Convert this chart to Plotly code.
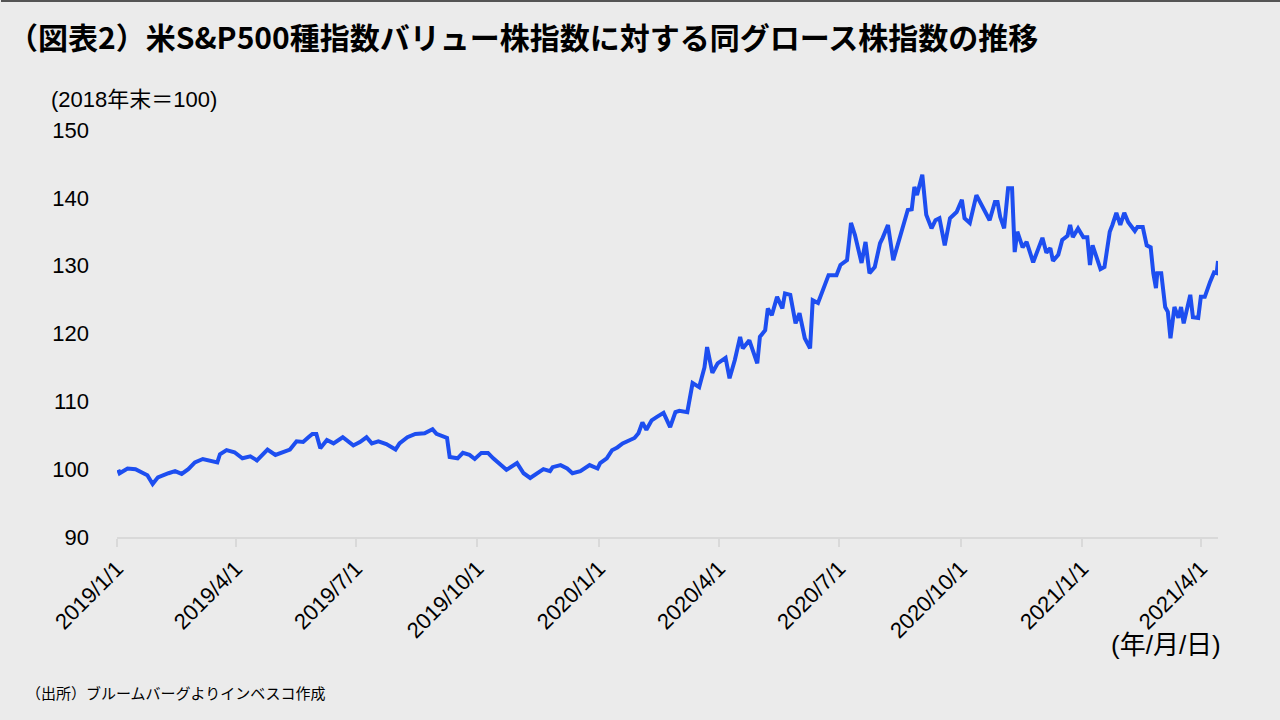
import plotly.graph_objects as go

# Relative index: S&P500 Growth / Value (end-2018 = 100)
dates = [
    "2019-01-02", "2019-01-03", "2019-01-09", "2019-01-15", "2019-01-21", "2019-01-24", "2019-01-28",
    "2019-02-01", "2019-02-09", "2019-02-14", "2019-02-19", "2019-02-24", "2019-03-01", "2019-03-07",
    "2019-03-18", "2019-03-20", "2019-03-25", "2019-03-31", "2019-04-06", "2019-04-12", "2019-04-17",
    "2019-04-25", "2019-05-01", "2019-05-12", "2019-05-17", "2019-05-22", "2019-05-26", "2019-05-29",
    "2019-06-01", "2019-06-04", "2019-06-09", "2019-06-14", "2019-06-21", "2019-06-29", "2019-07-04",
    "2019-07-09", "2019-07-13", "2019-07-18", "2019-07-24", "2019-07-31", "2019-08-03", "2019-08-09",
    "2019-08-15", "2019-08-22", "2019-08-28", "2019-08-31", "2019-09-08", "2019-09-10", "2019-09-16",
    "2019-09-20", "2019-09-25", "2019-09-29", "2019-10-04", "2019-10-09", "2019-10-13", "2019-10-17",
    "2019-10-23", "2019-10-31", "2019-11-05", "2019-11-10", "2019-11-15", "2019-11-20", "2019-11-25",
    "2019-11-27", "2019-12-03", "2019-12-08", "2019-12-12", "2019-12-18", "2019-12-25", "2019-12-31",
    "2020-01-02", "2020-01-07", "2020-01-11", "2020-01-15", "2020-01-19", "2020-01-25", "2020-01-28",
    "2020-01-31", "2020-02-03", "2020-02-06", "2020-02-10", "2020-02-14", "2020-02-19", "2020-02-24",
    "2020-02-28", "2020-03-02", "2020-03-08", "2020-03-12", "2020-03-17", "2020-03-21", "2020-03-23",
    "2020-03-27", "2020-03-31", "2020-04-06", "2020-04-09", "2020-04-13", "2020-04-17", "2020-04-19",
    "2020-04-24", "2020-04-30", "2020-05-02", "2020-05-06", "2020-05-08", "2020-05-11", "2020-05-15",
    "2020-05-19", "2020-05-21", "2020-05-25", "2020-05-29", "2020-06-01", "2020-06-05", "2020-06-09",
    "2020-06-11", "2020-06-15", "2020-06-19", "2020-06-23", "2020-06-29", "2020-07-02", "2020-07-07",
    "2020-07-10", "2020-07-13", "2020-07-18", "2020-07-21", "2020-07-24", "2020-07-28", "2020-08-01",
    "2020-08-03", "2020-08-07", "2020-08-11", "2020-08-15", "2020-08-18", "2020-08-22", "2020-08-25",
    "2020-08-27", "2020-08-29", "2020-09-02", "2020-09-05", "2020-09-09", "2020-09-12", "2020-09-15",
    "2020-09-19", "2020-09-23", "2020-09-28", "2020-10-02", "2020-10-04", "2020-10-08", "2020-10-13",
    "2020-10-18", "2020-10-23", "2020-10-27", "2020-10-29", "2020-10-31", "2020-11-03", "2020-11-06",
    "2020-11-09", "2020-11-11", "2020-11-13", "2020-11-17", "2020-11-20", "2020-11-25", "2020-11-28",
    "2020-12-02", "2020-12-05", "2020-12-08", "2020-12-10", "2020-12-14", "2020-12-17", "2020-12-21",
    "2020-12-23", "2020-12-25", "2020-12-29", "2021-01-02", "2021-01-05", "2021-01-07", "2021-01-09",
    "2021-01-12", "2021-01-15", "2021-01-18", "2021-01-22", "2021-01-24", "2021-01-27", "2021-01-30",
    "2021-02-02", "2021-02-05", "2021-02-10", "2021-02-12", "2021-02-16", "2021-02-19", "2021-02-22",
    "2021-02-24", "2021-02-26", "2021-02-27", "2021-03-02", "2021-03-05", "2021-03-07", "2021-03-09",
    "2021-03-11", "2021-03-12", "2021-03-15", "2021-03-17", "2021-03-19", "2021-03-24", "2021-03-26",
    "2021-03-30", "2021-04-01", "2021-04-04", "2021-04-08", "2021-04-11", "2021-04-13", "2021-04-14",
]
values = [
    99.9, 99.4, 100.1, 100.0, 99.4, 99.1, 97.8,
    98.8, 99.4, 99.7, 99.3, 100.0, 101.0, 101.5,
    101.0, 102.2, 102.8, 102.5, 101.6, 101.9, 101.3,
    102.9, 102.1, 102.9, 104.1, 104.0, 104.7, 105.2,
    105.2, 103.1, 104.3, 103.8, 104.7, 103.5, 104.0,
    104.7, 103.8, 104.1, 103.7, 102.9, 103.8, 104.7,
    105.2, 105.3, 105.9, 105.2, 104.6, 101.8, 101.6,
    102.4, 102.1, 101.5, 102.4, 102.4, 101.6, 100.9,
    99.9, 100.9, 99.4, 98.7, 99.4, 100.0, 99.7,
    100.3, 100.6, 100.1, 99.4, 99.7, 100.6, 100.1,
    100.9, 101.6, 102.8, 103.2, 103.8, 104.3, 104.6,
    105.3, 106.9, 105.8, 107.2, 107.7, 108.3, 106.2,
    108.4, 108.6, 108.4, 112.7, 112.1, 115.0, 118.0,
    114.2, 115.6, 116.4, 113.4, 116.1, 119.5, 117.8,
    119.0, 115.6, 119.5, 120.5, 123.7, 122.7, 125.4,
    123.7, 125.9, 125.7, 121.5, 123.0, 119.3, 117.8,
    124.9, 124.5, 126.7, 128.6, 128.6, 130.1, 130.8,
    136.3, 134.5, 130.4, 133.5, 128.9, 129.8, 133.3,
    134.1, 136.0, 130.8, 133.5, 135.3, 138.2, 138.3,
    141.6, 140.4, 143.4, 137.5, 135.5, 136.7, 137.0,
    133.0, 137.0, 137.9, 139.7, 137.0, 136.3, 140.4,
    138.6, 136.7, 139.4, 139.4, 137.2, 135.5, 141.4,
    141.4, 132.0, 135.0, 132.7, 133.5, 130.5, 132.0,
    134.1, 131.9, 132.6, 130.7, 131.6, 133.8, 134.4,
    136.0, 134.2, 135.5, 134.2, 134.2, 130.1, 133.0,
    131.1, 129.5, 129.8, 135.0, 136.0, 137.8, 136.0,
    137.8, 136.4, 135.1, 135.7, 135.7, 133.0, 132.7,
    128.9, 126.7, 128.9, 128.9, 123.9, 123.2, 119.3,
    123.0, 123.9, 122.3, 123.9, 121.5, 125.7, 122.4,
    122.3, 125.4, 125.4, 127.6, 129.0, 128.9, 130.7,
]

tick_dates = ["2019-01-01", "2019-04-01", "2019-07-01", "2019-10-01", "2020-01-01",
              "2020-04-01", "2020-07-01", "2020-10-01", "2021-01-01", "2021-04-01"]
tick_labels = ["2019/1/1", "2019/4/1", "2019/7/1", "2019/10/1", "2020/1/1",
               "2020/4/1", "2020/7/1", "2020/10/1", "2021/1/1", "2021/4/1"]
y_ticks = [90, 100, 110, 120, 130, 140, 150]

title_text = "（図表2）米S&P500種指数バリュー株指数に対する同グロース株指数の推移"
y_unit = "(2018年末＝100)"
x_unit = "(年/月/日)"
source_text = "（出所）ブルームバーグよりインベスコ作成"

BG = "#ebebeb"
LINE = "#1d4ef0"
FONT = "Liberation Sans, Arial, Noto Sans CJK JP, sans-serif"

fig = go.Figure()
fig.add_trace(go.Scatter(
    x=dates, y=values, mode="lines",
    line=dict(color=LINE, width=4),
    hoverinfo="x+y", showlegend=False,
))

L, R, T, B = 117, 62, 130, 183
W, H = 1280, 720
pw, ph = W - L - R, H - T - B

def px_x(px):
    return (px - L) / pw

def px_y(py):
    return (H - B - py) / ph

fig.update_layout(
    width=W, height=H,
    margin=dict(l=L, r=R, t=T, b=B, pad=0),
    paper_bgcolor=BG, plot_bgcolor=BG,
    font=dict(family=FONT, color="#000000", size=20),
    title=dict(
        text="<b>" + title_text + "</b>",
        font=dict(family="Noto Sans CJK JP, sans-serif", size=30, color="#000000"),
        xref="container", yref="container",
        x=8 / W, xanchor="left", y=1 - 38 / H, yanchor="middle",
    ),
    xaxis=dict(
        type="date",
        range=["2019-01-01", "2021-04-14"],
        tickmode="array", tickvals=tick_dates, ticktext=tick_labels,
        tickangle=-45,
        tickfont=dict(size=22, color="#000000"),
        showgrid=False, zeroline=False,
        showline=True, linecolor="#d9d9d9", linewidth=2,
        ticks="outside", ticklen=8, tickcolor="#d9d9d9", tickwidth=2,
        fixedrange=True,
    ),
    yaxis=dict(
        range=[90, 150],
        tickmode="array", tickvals=y_ticks,
        tickfont=dict(size=22, color="#000000"),
        showgrid=False, zeroline=False, showline=False,
        ticks="", ticklabelstandoff=27,
        fixedrange=True,
    ),
    shapes=[
        dict(type="line", xref="paper", yref="paper",
             x0=px_x(1), x1=px_x(1280), y0=px_y(1), y1=px_y(1),
             line=dict(color="#222222", width=1.5)),
    ],
    annotations=[
        dict(text=y_unit, xref="paper", yref="paper", x=px_x(49), y=px_y(100),
             xanchor="left", yanchor="middle", showarrow=False,
             font=dict(size=22, color="#000000")),
        dict(text=x_unit, xref="paper", yref="paper", x=px_x(1223), y=px_y(645),
             xanchor="right", yanchor="middle", showarrow=False,
             font=dict(size=26, color="#000000")),
        dict(text=source_text, xref="paper", yref="paper", x=px_x(24), y=px_y(693),
             xanchor="left", yanchor="middle", showarrow=False,
             font=dict(size=15, color="#000000")),
    ],
)

fig.write_html("out.html")
